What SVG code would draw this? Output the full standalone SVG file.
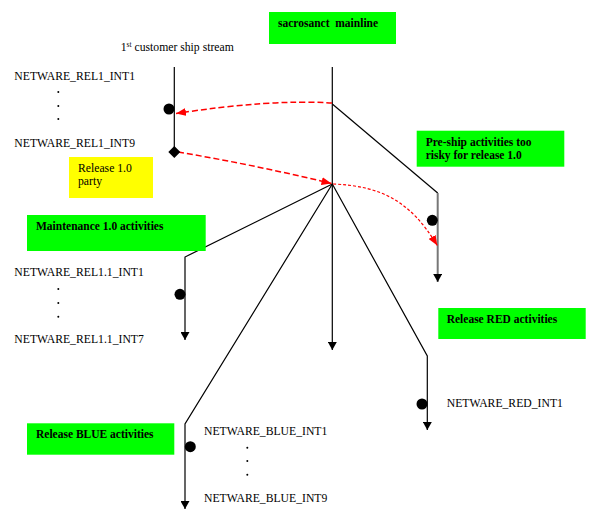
<svg xmlns="http://www.w3.org/2000/svg" width="600" height="523" viewBox="0 0 600 523">
<style>
.t{font-family:"Liberation Serif","Times New Roman",serif;font-size:11.7px;fill:#000}
.b{font-family:"Liberation Serif","Times New Roman",serif;font-size:11.5px;font-weight:bold;fill:#000}
.g{fill:#00ff00}
.y{fill:#ffff00}
.ln{stroke:#000;stroke-width:1.2;fill:none}
.rd{stroke:#ff0000;stroke-width:1.5;fill:none;stroke-dasharray:6,3}
.rd2{stroke:#ff0000;stroke-width:1.2;fill:none;stroke-dasharray:3,2}
.dot{fill:#000}
</style>
<defs>
<marker id="ab" viewBox="0 0 10 10" refX="10" refY="5" markerWidth="8" markerHeight="9" markerUnits="userSpaceOnUse" orient="auto" preserveAspectRatio="none">
<path d="M0,0 L10,5 L0,10 z" fill="#000"/>
</marker>
<marker id="ar" viewBox="0 0 10 10" refX="10" refY="5" markerWidth="10" markerHeight="8" markerUnits="userSpaceOnUse" orient="auto" preserveAspectRatio="none">
<path d="M0,0 L10,5 L0,10 z" fill="#ff0000"/>
</marker>
</defs>

<g id="connectors">
<line class="ln" x1="174.3" y1="67" x2="174.3" y2="152"/>
<line class="ln" x1="332.3" y1="67" x2="332.3" y2="350" marker-end="url(#ab)"/>
<polyline class="ln" points="332.3,104 437.7,193"/>
<line x1="437.7" y1="193" x2="437.7" y2="282" stroke="#777" stroke-width="2" marker-end="url(#ab)"/>
<polyline class="ln" points="332.3,184 185,257 185,340" marker-end="url(#ab)"/>
<polyline class="ln" points="332.3,184 185,424 185,509" marker-end="url(#ab)"/>
<polyline class="ln" points="332.3,184 427.3,356 427.3,430" marker-end="url(#ab)"/>
<path class="rd" d="M332,103 Q270,99 176,113.5" marker-end="url(#ar)"/>
<path class="rd" d="M178,152 Q255,165 331.5,183.5" marker-end="url(#ar)"/>
<path class="rd2" d="M333,184 C380,186 410,200 437.3,245.5" marker-end="url(#ar)"/>
</g>

<g id="mainline">
<rect class="g" x="269" y="12" width="127" height="32"/>
<text class="b" x="278" y="27" xml:space="preserve">sacrosanct  mainline</text>
</g>

<g id="ship-stream">
<text class="t" x="120.7" y="50.7">1<tspan font-size="7.5" dy="-4">st</tspan><tspan dy="4"> customer ship stream</tspan></text>
<text class="t" x="14.3" y="80">NETWARE_REL1_INT1</text>
<circle class="dot" cx="58.3" cy="92" r="1"/>
<circle class="dot" cx="58.3" cy="106" r="1"/>
<circle class="dot" cx="58.3" cy="119" r="1"/>
<text class="t" x="14.3" y="147">NETWARE_REL1_INT9</text>
<circle class="dot" cx="169" cy="109" r="5.5"/>
<polygon class="dot" points="174.3,146 180.3,152 174.3,158 168.3,152"/>
</g>

<g id="release-party">
<rect class="y" x="69" y="157" width="84" height="41"/>
<text class="t" x="78" y="172">Release 1.0</text>
<text class="t" x="78" y="185">party</text>
</g>

<g id="preship">
<rect class="g" x="416.7" y="130.7" width="147.6" height="36"/>
<text class="b" x="425.7" y="145.7">Pre-ship activities too</text>
<text class="b" x="425.7" y="159">risky for release 1.0</text>
<circle class="dot" cx="432.3" cy="220.3" r="5.5"/>
</g>

<g id="maintenance">
<rect class="g" x="27" y="215" width="178.7" height="36"/>
<text class="b" x="36" y="230">Maintenance 1.0 activities</text>
<text class="t" x="14.3" y="276">NETWARE_REL1.1_INT1</text>
<circle class="dot" cx="58.3" cy="289" r="1"/>
<circle class="dot" cx="58.3" cy="303" r="1"/>
<circle class="dot" cx="58.3" cy="316.7" r="1"/>
<text class="t" x="14.3" y="343">NETWARE_REL1.1_INT7</text>
<circle class="dot" cx="180" cy="294.3" r="5.5"/>
</g>

<g id="red">
<rect class="g" x="438.3" y="308" width="147.4" height="31"/>
<text class="b" x="446.7" y="322.7">Release RED activities</text>
<circle class="dot" cx="422" cy="404" r="5.5"/>
<text class="t" x="446.7" y="407">NETWARE_RED_INT1</text>
</g>

<g id="blue">
<rect class="g" x="27" y="423.3" width="147.3" height="31.4"/>
<text class="b" x="36" y="438.3">Release BLUE activities</text>
<circle class="dot" cx="190.3" cy="446.7" r="5.5"/>
<text class="t" x="204" y="435">NETWARE_BLUE_INT1</text>
<circle class="dot" cx="247.3" cy="447.7" r="1"/>
<circle class="dot" cx="247.3" cy="461" r="1"/>
<circle class="dot" cx="247.3" cy="474.7" r="1"/>
<text class="t" x="204" y="501.7">NETWARE_BLUE_INT9</text>
</g>
</svg>
